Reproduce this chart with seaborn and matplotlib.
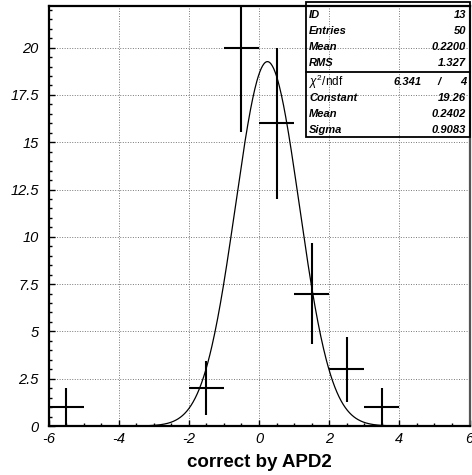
import numpy as np
import pandas as pd
import matplotlib
matplotlib.use("Agg")
import matplotlib.pyplot as plt
from matplotlib.patches import Rectangle
from matplotlib.ticker import MultipleLocator, FuncFormatter
import seaborn as sns

# ---- data ----
bin_centers = [-5.5, -1.5, -0.5, 0.5, 1.5, 2.5, 3.5]
counts = [1, 2, 20, 16, 7, 3, 1]
count_errors = [1.0, 1.41, 4.47, 4.0, 2.65, 1.73, 1.0]
bin_half_width = 0.5

fit_constant = 19.26
fit_mean = 0.2402
fit_sigma = 0.9083

stats_labels = ["ID", "Entries", "Mean", "RMS"]
stats_values = ["13", "50", "0.2200", "1.327"]
fit_labels = ["Constant", "Mean", "Sigma"]
fit_values = ["19.26", "0.2402", "0.9083"]
chi2_value = "6.341"
ndf_value = "4"
x_label = "correct by APD2"

# ---- style ----
sns.set_theme(style="white")
plt.rcParams["font.family"] = ["Liberation Sans", "DejaVu Sans"]
plt.rcParams["mathtext.fontset"] = "custom"
plt.rcParams["mathtext.rm"] = "Liberation Sans"
plt.rcParams["mathtext.it"] = "Liberation Sans:italic"

W, H = 472, 475
fig = plt.figure(figsize=(W / 100, H / 100), dpi=100)
fig.patch.set_facecolor("white")
ax = fig.add_axes([48.5 / W, 1 - 426 / H, (469.5 - 48.5) / W, (426 - 6) / H])
ax.set_facecolor("white")

ax.set_xlim(-6, 6)
ax.set_ylim(0, 22.2)

# grid
ax.xaxis.set_major_locator(MultipleLocator(2))
ax.xaxis.set_minor_locator(MultipleLocator(0.5))
ax.yaxis.set_major_locator(MultipleLocator(2.5))
ax.yaxis.set_minor_locator(MultipleLocator(0.5))
ax.grid(True, which="major", color="#777777", linestyle=(0, (1, 1.6)), linewidth=0.7)
ax.set_axisbelow(True)

# fit curve
xs = np.linspace(-6, 6, 601)
fit_df = pd.DataFrame({"x": xs,
                       "y": fit_constant * np.exp(-0.5 * ((xs - fit_mean) / fit_sigma) ** 2)})
sns.lineplot(data=fit_df, x="x", y="y", ax=ax, color="black", linewidth=0.9, zorder=3)

# histogram points with errors
ax.errorbar(bin_centers, counts, xerr=bin_half_width, yerr=count_errors,
            fmt="none", ecolor="black", elinewidth=1.5, capsize=0, zorder=4)

# axes formatting
def fmt(v, pos):
    if abs(v - round(v)) < 1e-9:
        return f"{int(round(v))}"
    return f"{v:g}"

ax.xaxis.set_major_formatter(FuncFormatter(fmt))
ax.yaxis.set_major_formatter(FuncFormatter(fmt))
ax.tick_params(axis="both", which="both", direction="in", left=True, bottom=True,
               right=False, top=False, color="black")
ax.tick_params(axis="both", which="major", length=4, width=1.0, labelsize=10.5)
ax.tick_params(axis="both", which="minor", length=2.3, width=1.0)
ax.tick_params(axis="x", which="major", pad=4)
ax.tick_params(axis="y", which="major", pad=7)
for lab in ax.get_xticklabels() + ax.get_yticklabels():
    lab.set_fontstyle("italic")
    lab.set_color("black")

for side in ["left", "bottom", "top"]:
    ax.spines[side].set_color("black")
    ax.spines[side].set_linewidth(1.6)
ax.spines["right"].set_color("#555555")
ax.spines["right"].set_linewidth(1.6)

ax.set_xlabel(x_label, fontsize=13.5, fontweight="bold", color="black", labelpad=6)
ax.set_ylabel("")

# ---- stats box (figure pixel coords) ----
def fx(px):
    return px / W

def fy(py):
    return 1 - py / H

box = Rectangle((fx(306), fy(137)), fx(470) - fx(306), fy(2) - fy(137),
                transform=fig.transFigure, fill=False, edgecolor="black",
                linewidth=1.3, zorder=10)
fig.patches.append(box)
fig.add_artist(plt.Line2D([fx(306), fx(470)], [fy(72), fy(72)],
                          transform=fig.transFigure, color="black", linewidth=1.3))

row_y = [15, 31, 47, 63]
tkw = dict(fontsize=8, fontweight="bold", fontstyle="italic", color="black",
           va="center", transform=fig.transFigure)
for lab, val, yy in zip(stats_labels, stats_values, row_y):
    fig.text(fx(309), fy(yy), lab, ha="left", **tkw)
    fig.text(fx(466), fy(yy), val, ha="right", **tkw)

fig.text(fx(309), fy(82), r"$\chi^{2}$/ndf", ha="left", va="center", fontsize=8.5,
         color="black", transform=fig.transFigure)
fig.text(fx(422), fy(82), chi2_value, ha="right", **tkw)
fig.text(fx(439), fy(82), "/", ha="center", **tkw)
fig.text(fx(466), fy(82), ndf_value, ha="right", **tkw)

for lab, val, yy in zip(fit_labels, fit_values, [98, 114, 130]):
    fig.text(fx(309), fy(yy), lab, ha="left", **tkw)
    fig.text(fx(466), fy(yy), val, ha="right", **tkw)

fig.savefig("out.png", dpi=100)
